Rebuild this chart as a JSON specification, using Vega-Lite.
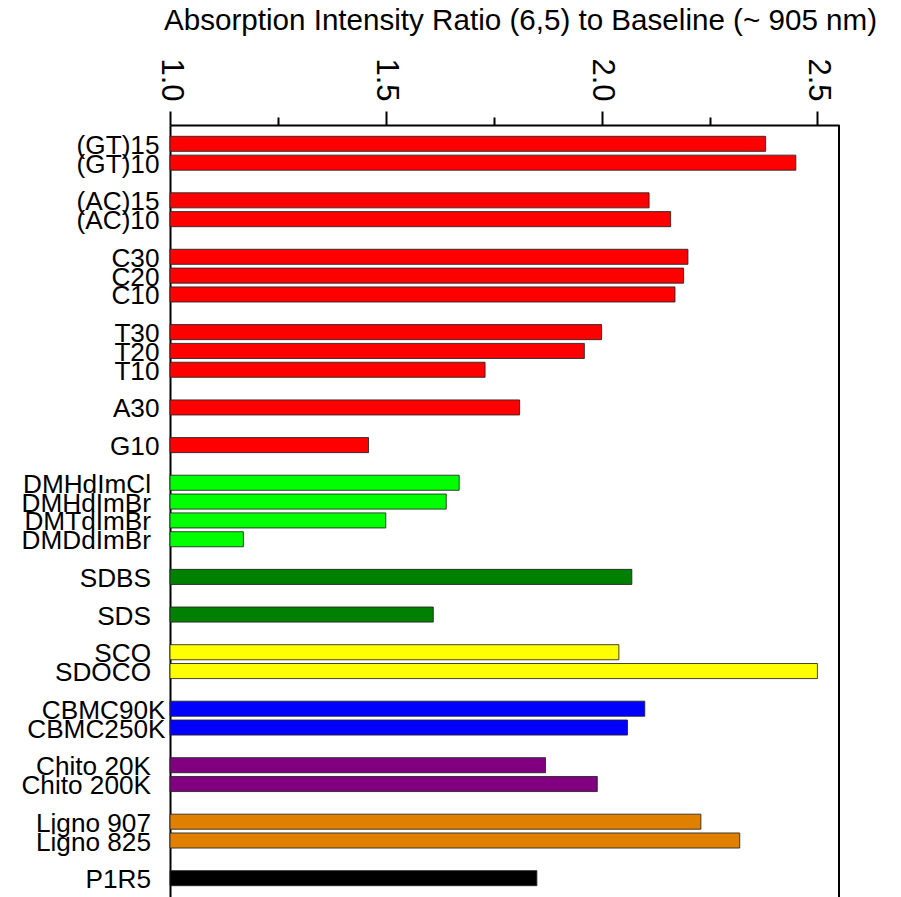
{
  "$schema": "https://vega.github.io/schema/vega-lite/v6.json",
  "width": 669,
  "height": 772,
  "autosize": "none",
  "padding": {"left": 170, "top": 125, "right": 62, "bottom": 0},
  "background": "white",
  "config": {"view": {"stroke": null}, "font": "Liberation Sans"},
  "title": {
    "text": "Absorption Intensity Ratio (6,5) to Baseline (~ 905 nm)",
    "font": "Liberation Sans",
    "fontSize": 29.6,
    "fontWeight": "normal",
    "color": "black",
    "anchor": "middle",
    "frame": "group",
    "dx": 16,
    "baseline": "alphabetic",
    "offset": -2
  },
  "data": {
    "values": [
      {"sample": "(GT)15", "class": "DNA", "ratio": 2.38},
      {"sample": "(GT)10", "class": "DNA", "ratio": 2.45},
      {"sample": "(AC)15", "class": "DNA", "ratio": 2.11},
      {"sample": "(AC)10", "class": "DNA", "ratio": 2.16},
      {"sample": "C30", "class": "DNA", "ratio": 2.2},
      {"sample": "C20", "class": "DNA", "ratio": 2.19},
      {"sample": "C10", "class": "DNA", "ratio": 2.17},
      {"sample": "T30", "class": "DNA", "ratio": 2.0},
      {"sample": "T20", "class": "DNA", "ratio": 1.96},
      {"sample": "T10", "class": "DNA", "ratio": 1.73},
      {"sample": "A30", "class": "DNA", "ratio": 1.81},
      {"sample": "G10", "class": "DNA", "ratio": 1.46},
      {"sample": "DMHdImCl", "class": "imidazolium", "ratio": 1.67},
      {"sample": "DMHdImBr", "class": "imidazolium", "ratio": 1.64},
      {"sample": "DMTdImBr", "class": "imidazolium", "ratio": 1.5},
      {"sample": "DMDdImBr", "class": "imidazolium", "ratio": 1.17},
      {"sample": "SDBS", "class": "surfactant", "ratio": 2.07},
      {"sample": "SDS", "class": "surfactant", "ratio": 1.61},
      {"sample": "SCO", "class": "bile salt", "ratio": 2.04},
      {"sample": "SDOCO", "class": "bile salt", "ratio": 2.5},
      {"sample": "CBMC90K", "class": "cellulose", "ratio": 2.1},
      {"sample": "CBMC250K", "class": "cellulose", "ratio": 2.06},
      {"sample": "Chito 20K", "class": "chitosan", "ratio": 1.87},
      {"sample": "Chito 200K", "class": "chitosan", "ratio": 1.99},
      {"sample": "Ligno 907", "class": "lignosulfonate", "ratio": 2.23},
      {"sample": "Ligno 825", "class": "lignosulfonate", "ratio": 2.32},
      {"sample": "P1R5", "class": "polymer", "ratio": 1.85}
    ]
  },
  "layer": [
    {
      "mark": {"type": "bar", "stroke": "#222222", "strokeWidth": 1, "strokeOpacity": 0.85},
      "encoding": {
        "y": {
          "field": "sample",
          "type": "nominal",
          "sort": null,
          "scale": {
            "domain": ["(GT)15", "(GT)10", " ", "(AC)15", "(AC)10", "  ", "C30", "C20", "C10", "   ", "T30", "T20", "T10", "    ", "A30", "     ", "G10", "      ", "DMHdImCl", "DMHdImBr", "DMTdImBr", "DMDdImBr", "       ", "SDBS", "        ", "SDS", "         ", "SCO", "SDOCO", "          ", "CBMC90K", "CBMC250K", "           ", "Chito 20K", "Chito 200K", "            ", "Ligno 907", "Ligno 825", "             ", "P1R5"],
            "paddingInner": 0.2,
            "paddingOuter": 0.6
          },
          "axis": {
            "title": null,
            "orient": "left",
            "domain": true,
            "domainColor": "black",
            "domainWidth": 2,
            "ticks": false,
            "labelFont": "Liberation Sans",
            "labelFontSize": 26.2,
            "labelColor": "black",
            "labelLimit": 0,
            "labelAlign": "right",
            "labelBaseline": "middle",
            "labelOffset": 2,
            "labelPadding": {
              "condition": [
                {"test": "indexof(['(GT)15','(GT)10','(AC)15','(AC)10','C30','C20','C10','T30','T20','T10','A30','G10'], datum.value) >= 0", "value": 11},
                {"test": "indexof(['CBMC90K','CBMC250K'], datum.value) >= 0", "value": 5}
              ],
              "value": 19.5
            }
          }
        },
        "x": {
          "field": "ratio",
          "type": "quantitative",
          "scale": {"domain": [1, 2.55], "zero": false, "nice": false},
          "axis": {
            "title": null,
            "orient": "top",
            "grid": false,
            "values": [1, 1.25, 1.5, 1.75, 2, 2.25, 2.5],
            "labelExpr": "abs(datum.value * 2 - round(datum.value * 2)) < 0.001 ? format(datum.value, '.1f') : ''",
            "labelAngle": 90,
            "labelFont": "Liberation Sans",
            "labelFontSize": 31,
            "labelColor": "black",
            "labelPadding": 10,
            "labelOverlap": false,
            "labelFlush": false,
            "labelBound": false,
            "tickColor": "black",
            "tickWidth": 2,
            "tickSize": {
              "condition": {"test": "abs(datum.value * 2 - round(datum.value * 2)) < 0.001", "value": 14},
              "value": 8
            },
            "domainColor": "black",
            "domainWidth": 2
          }
        },
        "x2": {"datum": 1},
        "color": {
          "field": "class",
          "type": "nominal",
          "scale": {
            "domain": ["DNA", "imidazolium", "surfactant", "bile salt", "cellulose", "chitosan", "lignosulfonate", "polymer"],
            "range": ["#FF0000", "#00FF00", "#008000", "#FFFF00", "#0000FF", "#800080", "#DF8000", "#000000"]
          },
          "legend": null
        }
      }
    },
    {
      "mark": {"type": "rule", "color": "black", "strokeWidth": 2},
      "encoding": {"x": {"datum": 2.55}}
    }
  ]
}
